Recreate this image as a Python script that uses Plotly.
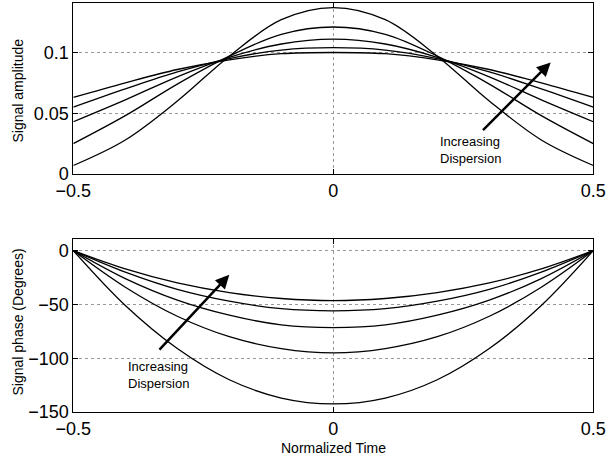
import plotly.graph_objects as go
from plotly.subplots import make_subplots

# normalized time samples
t = [-0.5, -0.4, -0.3, -0.2, -0.1, 0.0, 0.1, 0.2, 0.3, 0.4, 0.5]

# signal amplitude, one list per dispersion level
amp_1 = [0.007, 0.028, 0.060, 0.097, 0.127, 0.137, 0.127, 0.097, 0.060, 0.028, 0.007]
amp_2 = [0.025, 0.048, 0.074, 0.097, 0.115, 0.121, 0.115, 0.097, 0.074, 0.048, 0.025]
amp_3 = [0.043, 0.061, 0.080, 0.096, 0.107, 0.111, 0.107, 0.096, 0.080, 0.061, 0.043]
amp_4 = [0.055, 0.070, 0.084, 0.095, 0.102, 0.104, 0.102, 0.095, 0.084, 0.070, 0.055]
amp_5 = [0.063, 0.075, 0.086, 0.094, 0.099, 0.100, 0.099, 0.094, 0.086, 0.075, 0.063]

# signal phase (degrees)
ph_1 = [0, -51, -91, -120, -137, -142.5, -137, -120, -91, -51, 0]
ph_2 = [0, -34, -61, -80, -91, -95, -91, -80, -61, -34, 0]
ph_3 = [0, -26, -46, -60, -69, -71.5, -69, -60, -46, -26, 0]
ph_4 = [0, -20, -36, -47, -54, -56, -54, -47, -36, -20, 0]
ph_5 = [0, -17, -30, -39, -44.5, -46.5, -44.5, -39, -30, -17, 0]

x_ticks = [-0.5, 0, 0.5]
amp_ticks = [0, 0.05, 0.1]
amp_labels = ["0", "0.05", "0.1"]
ph_ticks = [0, -50, -100, -150]
ph_labels = ["0", "\u221250", "\u2212100", "\u2212150"]

FONT = "Liberation Sans, Arial, sans-serif"

fig = make_subplots(rows=2, cols=1)

for amp in [amp_1, amp_2, amp_3, amp_4, amp_5]:
    fig.add_trace(go.Scatter(x=t, y=amp, mode="lines", line_shape="spline",
                             line=dict(color="black", width=1.3)), row=1, col=1)

for ph in [ph_1, ph_2, ph_3, ph_4, ph_5]:
    fig.add_trace(go.Scatter(x=t, y=ph, mode="lines", line_shape="spline",
                             line=dict(color="black", width=1.3)), row=2, col=1)

axis_style = dict(
    showline=True, mirror="ticks", linecolor="black", linewidth=1,
    ticks="inside", ticklen=5, tickcolor="black", automargin=False,
    showgrid=True, gridcolor="#999", griddash="dot", gridwidth=1,
    zeroline=False, tickfont=dict(family=FONT, size=18, color="black"),
)

fig.update_xaxes(axis_style, range=[-0.5, 0.5], tickvals=x_ticks,
                 ticktext=["\u22120.5", "0", "0.5"], domain=[0.1204, 0.9742])
fig.update_yaxes(axis_style)
fig.update_yaxes(range=[0, 0.141], tickvals=amp_ticks, ticktext=amp_labels,
                 domain=[0.6234, 0.9942], row=1, col=1)
fig.update_yaxes(range=[-150, 10.8], tickvals=ph_ticks, ticktext=ph_labels,
                 domain=[0.1082, 0.4827], row=2, col=1)

# arrows + labels
fig.add_annotation(x=0.418, y=0.0918, ax=0.285, ay=0.0349, xref="x", yref="y",
                   axref="x", ayref="y", showarrow=True, arrowhead=2,
                   arrowsize=1.1, arrowwidth=2.5, arrowcolor="black", text="")
fig.add_annotation(x=0.263, y=0.0198, xref="x", yref="y", showarrow=False,
                   text="Increasing<br>Dispersion", align="left",
                   font=dict(family=FONT, size=13, color="black"))
fig.add_annotation(x=-0.2, y=-22.5, ax=-0.337, ay=-93.5, xref="x2", yref="y2",
                   axref="x2", ayref="y2", showarrow=True, arrowhead=2,
                   arrowsize=1.1, arrowwidth=2.5, arrowcolor="black", text="")
fig.add_annotation(x=-0.337, y=-115.3, xref="x2", yref="y2", showarrow=False,
                   text="Increasing<br>Dispersion", align="left",
                   font=dict(family=FONT, size=13, color="black"))

# axis titles (explicit anchors, auto would pin them to edges)
title_font = dict(family=FONT, size=14, color="black")
fig.add_annotation(x=17.5 / 609, y=1 - 91 / 462, xref="paper", yref="paper",
                   xanchor="center", yanchor="middle",
                   text="Signal amplitude", textangle=-90, showarrow=False,
                   font=title_font)
fig.add_annotation(x=17.5 / 609, y=1 - 322 / 462, xref="paper", yref="paper",
                   xanchor="center", yanchor="middle",
                   text="Signal phase (Degrees)", textangle=-90, showarrow=False,
                   font=title_font)
fig.add_annotation(x=333 / 609, y=1 - 448 / 462, xref="paper", yref="paper",
                   xanchor="center", yanchor="middle",
                   text="Normalized Time", showarrow=False, font=title_font)

fig.update_layout(
    width=609, height=462,
    margin=dict(l=0, r=0, t=0, b=0),
    paper_bgcolor="white", plot_bgcolor="white",
    showlegend=False,
)

# drop the default 8px body margin so the figure fills the window
fig.write_html("out.html", config={"displayModeBar": False},
               post_script="document.body.style.margin='0';")
